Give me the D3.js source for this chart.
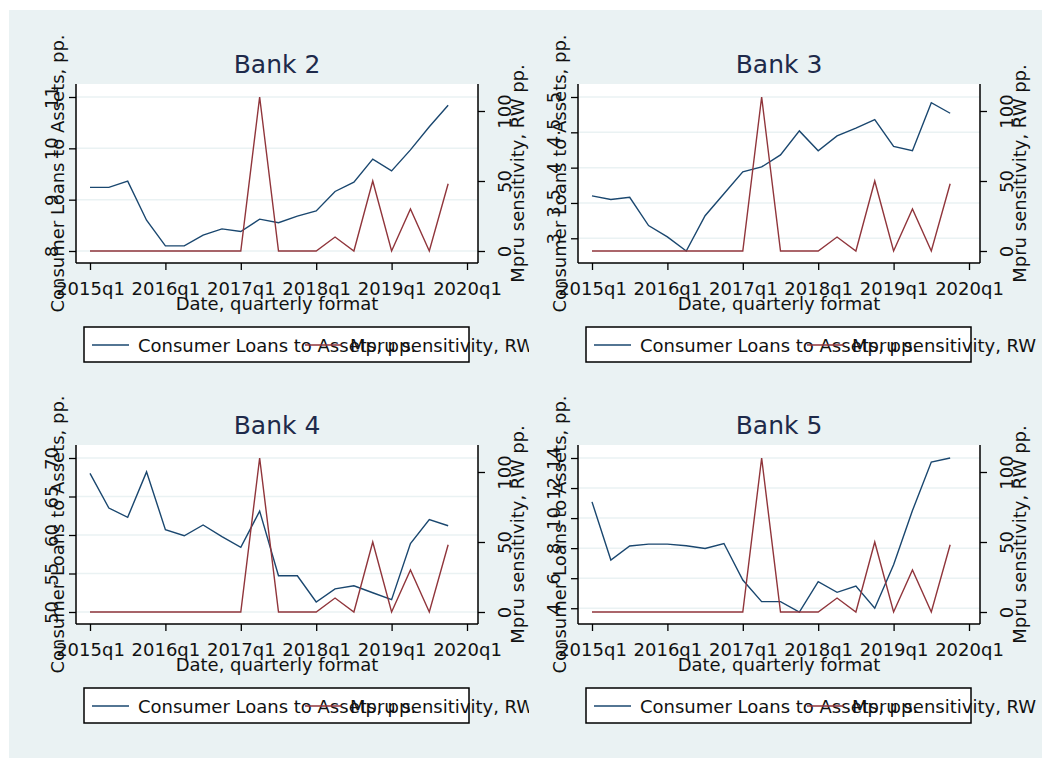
<!DOCTYPE html>
<html>
<head>
<meta charset="utf-8">
<script src="https://cdn.jsdelivr.net/npm/d3@7"></script>
<style>
  body { margin: 0; background: #fff; }
  text { font-family: "DejaVu Sans", sans-serif; }
</style>
</head>
<body>
<script>
// Quarters (2020q1 only closes the axis)
var quarters = [
  "2015q1", "2015q2", "2015q3", "2015q4", "2016q1", "2016q2", "2016q3", "2016q4",
  "2017q1", "2017q2", "2017q3", "2017q4", "2018q1", "2018q2", "2018q3", "2018q4",
  "2019q1", "2019q2", "2019q3", "2019q4", "2020q1",
];
var xTickLabels = ["2015q1", "2016q1", "2017q1", "2018q1", "2019q1", "2020q1"];

// Mpru sensitivity, RW pp. (same for every bank)
var mpru = [0, 0, 0, 0, 0, 0, 0, 0, 0, 110, 0, 0, 0, 10, 0, 50, 0, 30, 0, 48];
var mpruTicks = [0, 50, 100];

// Consumer loans to assets, pp.
var bank2 = [9.24, 9.24, 9.36, 8.6, 8.1, 8.1, 8.31, 8.43, 8.38, 8.62, 8.55, 8.68, 8.78, 9.16, 9.34, 9.79, 9.56, 9.97, 10.42, 10.84];
var bank3 = [3.6, 3.55, 3.58, 3.18, 3.02, 2.82, 3.32, 3.63, 3.94, 4.01, 4.18, 4.52, 4.24, 4.45, 4.56, 4.68, 4.3, 4.24, 4.92, 4.77];
var bank4 = [68.0, 63.5, 62.3, 68.2, 60.7, 59.9, 61.3, 59.8, 58.4, 63.1, 54.7, 54.7, 51.3, 53.0, 53.4, 52.5, 51.6, 58.9, 62.0, 61.2];
var bank5 = [11.08, 7.21, 8.14, 8.27, 8.27, 8.16, 7.98, 8.31, 5.88, 4.44, 4.44, 3.75, 5.77, 5.06, 5.48, 4.0, 6.9, 10.5, 13.73, 14.0];

var bank2Ticks = [8, 9, 10, 11];
var bank3Ticks = [3, 3.5, 4, 4.5, 5];
var bank4Ticks = [50, 55, 60, 65, 70];
var bank5Ticks = [4, 6, 8, 10, 12, 14];

var bankNames = ["Bank 2", "Bank 3", "Bank 4", "Bank 5"];

var blue = "#1a476f", red = "#90353b", bg = "#eaf2f3";

// plot region of one panel (local coords)
var plot = { left: 76, right: 478, top: 84, bottom: 263 };
var inner = { top: 97, bottom: 251, x0: 90, x1: 467 };

var svg = d3.select("body").append("svg")
  .attr("width", 1042)
  .attr("height", 761);

svg.append("rect")
  .attr("x", 9).attr("y", 10)
  .attr("width", 1042 - 9).attr("height", 761 - 10 - 3)
  .attr("fill", bg);

var x = d3.scalePoint().domain(quarters).range([inner.x0, inner.x1]);
var fmt = d3.format("~g");

function panel(k, name, values, ticks, dx, dy, clipX, clipW) {
  var clipId = "clip" + k;
  svg.append("clipPath").attr("id", clipId)
    .append("rect").attr("x", clipX).attr("y", 0).attr("width", clipW).attr("height", 761);

  var g = svg.append("g").attr("clip-path", `url(#${clipId})`)
    .append("g").attr("transform", `translate(${dx},${dy})`);

  var yL = d3.scaleLinear()
    .domain(d3.extent(values.concat(ticks)))
    .range([inner.bottom, inner.top]);
  var yR = d3.scaleLinear()
    .domain(d3.extent(mpru.concat(mpruTicks)))
    .range([inner.bottom, inner.top]);

  // plot region
  g.append("rect")
    .attr("x", plot.left).attr("y", plot.top)
    .attr("width", plot.right - plot.left).attr("height", plot.bottom - plot.top)
    .attr("fill", "#fff");

  // gridlines
  g.selectAll(".grid").data(ticks).enter().append("line")
    .attr("x1", plot.left).attr("x2", plot.right)
    .attr("y1", d => yL(d)).attr("y2", d => yL(d))
    .attr("stroke", bg).attr("stroke-width", 1.5);

  // lines
  var lineL = d3.line().x((d, i) => x(quarters[i])).y(d => yL(d));
  var lineR = d3.line().x((d, i) => x(quarters[i])).y(d => yR(d));
  g.append("path").attr("d", lineL(values))
    .attr("fill", "none").attr("stroke", blue).attr("stroke-width", 1.4);
  g.append("path").attr("d", lineR(mpru))
    .attr("fill", "none").attr("stroke", red).attr("stroke-width", 1.4);

  // axis lines
  g.append("line").attr("x1", plot.left).attr("x2", plot.left)
    .attr("y1", plot.top).attr("y2", plot.bottom).attr("stroke", "#000").attr("stroke-width", 1.5);
  g.append("line").attr("x1", plot.right).attr("x2", plot.right)
    .attr("y1", plot.top).attr("y2", plot.bottom).attr("stroke", "#000").attr("stroke-width", 1.5);
  g.append("line").attr("x1", plot.left).attr("x2", plot.right)
    .attr("y1", plot.bottom).attr("y2", plot.bottom).attr("stroke", "#000").attr("stroke-width", 1.5);

  // left axis
  var ax = g.append("g").attr("transform", `translate(${plot.left},0)`)
    .call(d3.axisLeft(yL).tickValues(ticks).tickFormat(fmt).tickSize(7).tickSizeOuter(0));
  ax.select(".domain").remove();
  ax.selectAll("text")
    .attr("x", null).attr("dy", null)
    .attr("text-anchor", "middle")
    .attr("transform", "translate(-18,0) rotate(-90)");

  // right axis
  var ar = g.append("g").attr("transform", `translate(${plot.right},0)`)
    .call(d3.axisRight(yR).tickValues(mpruTicks).tickFormat(fmt).tickSize(7).tickSizeOuter(0));
  ar.select(".domain").remove();
  ar.selectAll("text")
    .attr("x", null).attr("dy", null)
    .attr("text-anchor", "middle")
    .attr("transform", "translate(33,0) rotate(-90)");

  // bottom axis
  var ab = g.append("g").attr("transform", `translate(0,${plot.bottom})`)
    .call(d3.axisBottom(x).tickValues(xTickLabels).tickSize(7).tickSizeOuter(0));
  ab.select(".domain").remove();
  ab.selectAll("text").attr("y", 32).attr("dy", null);

  g.selectAll(".tick line").attr("stroke", "#000").attr("stroke-width", 1.3);
  g.selectAll(".tick text")
    .attr("font-size", 18).attr("fill", "#111")
    .style("font-family", "DejaVu Sans, sans-serif");

  // titles
  var cx = (plot.left + plot.right) / 2, cy = (plot.top + plot.bottom) / 2;
  g.append("text").attr("x", cx).attr("y", 73)
    .attr("text-anchor", "middle").attr("font-size", 25).attr("fill", "#1e2a4a")
    .text(name);
  g.append("text").attr("x", cx).attr("y", 310)
    .attr("text-anchor", "middle").attr("font-size", 18).attr("fill", "#111")
    .text("Date, quarterly format");
  g.append("text").attr("transform", `translate(64,${cy}) rotate(-90)`)
    .attr("text-anchor", "middle").attr("font-size", 18).attr("fill", "#111")
    .text("Consumer Loans to Assets, pp.");
  g.append("text").attr("transform", `translate(524,${cy}) rotate(-90)`)
    .attr("text-anchor", "middle").attr("font-size", 18).attr("fill", "#111")
    .text("Mpru sensitivity, RW pp.");

  // legend
  g.append("rect").attr("x", 84).attr("y", 327).attr("width", 385).attr("height", 35)
    .attr("fill", "#fff").attr("stroke", "#000").attr("stroke-width", 1.5);
  g.append("line").attr("x1", 92).attr("x2", 129).attr("y1", 345).attr("y2", 345)
    .attr("stroke", blue).attr("stroke-width", 1.4);
  g.append("text").attr("x", 138).attr("y", 351.5).attr("font-size", 18).attr("fill", "#111")
    .text("Consumer Loans to Assets, pp.");
  g.append("line").attr("x1", 305).attr("x2", 342).attr("y1", 345).attr("y2", 345)
    .attr("stroke", red).attr("stroke-width", 1.4);
  g.append("text").attr("x", 350).attr("y", 351.5).attr("font-size", 18).attr("fill", "#111")
    .text("Mpru sensitivity, RW pp.");
}

panel(0, bankNames[0], bank2, bank2Ticks, 0, 0, 0, 529);
panel(1, bankNames[1], bank3, bank3Ticks, 502, 0, 529, 513);
panel(2, bankNames[2], bank4, bank4Ticks, 0, 361, 0, 529);
panel(3, bankNames[3], bank5, bank5Ticks, 502, 361, 529, 513);
</script>
</body>
</html>
